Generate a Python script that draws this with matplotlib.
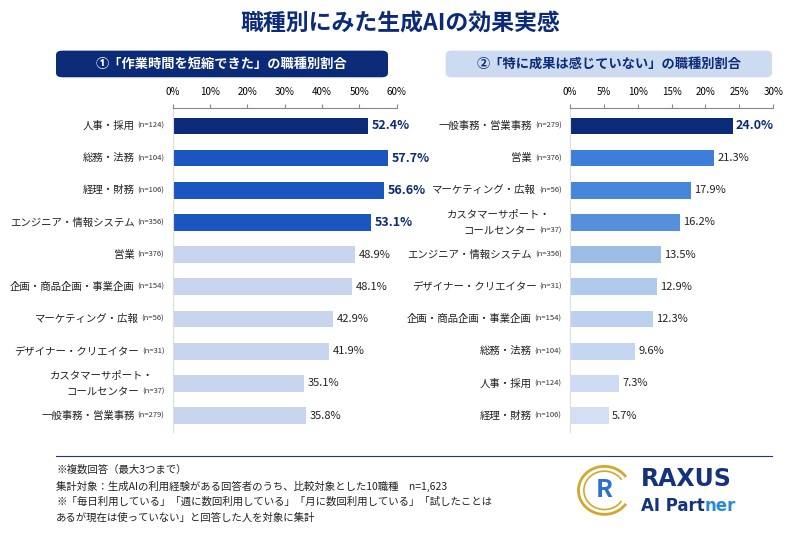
import matplotlib.pyplot as plt
from matplotlib.patches import FancyBboxPatch, Arc
from matplotlib.transforms import offset_copy
import numpy as np

plt.rcParams['font.family'] = ['Noto Sans CJK JP', 'DejaVu Sans']

# left panel: 作業時間を短縮できた
left_jobs = ["人事・採用", "総務・法務", "経理・財務", "エンジニア・情報システム", "営業",
             "企画・商品企画・事業企画", "マーケティング・広報", "デザイナー・クリエイター",
             "カスタマーサポート・\nコールセンター", "一般事務・営業事務"]
left_n = [124, 104, 106, 356, 376, 154, 56, 31, 37, 279]
left_vals = [52.4, 57.7, 56.6, 53.1, 48.9, 48.1, 42.9, 41.9, 35.1, 35.8]
left_colors = ["#0b2a78", "#1a55c0", "#1a55c0", "#1a55c0"] + ["#c7d6ee"] * 6

# right panel: 特に成果は感じていない
right_jobs = ["一般事務・営業事務", "営業", "マーケティング・広報", "カスタマーサポート・\nコールセンター",
              "エンジニア・情報システム", "デザイナー・クリエイター", "企画・商品企画・事業企画",
              "総務・法務", "人事・採用", "経理・財務"]
right_n = [279, 376, 56, 37, 356, 31, 154, 104, 124, 106]
right_vals = [24.0, 21.3, 17.9, 16.2, 13.5, 12.9, 12.3, 9.6, 7.3, 5.7]
right_colors = ["#0b2a78", "#3d7ed8", "#4787da", "#5690dd", "#9dbce8", "#b0caee",
                "#bcd1ef", "#c5d7f0", "#cddcf2", "#d3e0f3"]

fig = plt.figure(figsize=(8, 5.33), dpi=100)
fig.patch.set_facecolor("white")
renderer = fig.canvas.get_renderer()

fig.text(0.5, 0.955, "職種別にみた生成AIの効果実感", ha="center", va="center",
         fontsize=16.5, fontweight="bold", color="#0b2a78")

def header(x0, x1, text, fc, tc):
    box = FancyBboxPatch((x0, 0.855), x1 - x0, 0.05, boxstyle="round,pad=0,rounding_size=0.008",
                         transform=fig.transFigure, fc=fc, ec="none")
    fig.patches.append(box)
    fig.text((x0 + x1) / 2, 0.88, text, ha="center", va="center", fontsize=9.5,
             fontweight="bold", color=tc)

header(0.07, 0.485, "①「作業時間を短縮できた」の職種別割合", "#0b2a78", "white")
header(0.557, 0.965, "②「特に成果は感じていない」の職種別割合", "#cddbf1", "#0b2a78")

def panel(rect, jobs, ns, vals, colors, xmax, step, nbold):
    ax = fig.add_axes(rect)
    y = np.arange(len(jobs))
    ax.barh(y, vals, color=colors, height=0.52)
    ax.set_xlim(0, xmax)
    ax.set_ylim(len(jobs) - 0.5, -0.55)
    ax.xaxis.tick_top()
    ax.set_xticks(np.arange(0, xmax + 1, step))
    ax.set_xticklabels([f"{t}%" for t in np.arange(0, xmax + 1, step)], fontsize=7)
    ax.tick_params(axis="x", length=3, color="#888888", pad=5)
    ax.set_yticks([])
    for s in ["right", "bottom"]:
        ax.spines[s].set_visible(False)
    ax.spines["top"].set_color("#888888")
    ax.spines["left"].set_color("#dddddd")
    tr = ax.get_yaxis_transform()
    for i, (j, n, v) in enumerate(zip(jobs, ns, vals)):
        lines = j.split("\n")
        dy = -6 if len(lines) > 1 else 0
        nt = ax.text(0, i, f"(n={n})", transform=offset_copy(tr, fig, x=-6, y=dy, units="points"),
                     ha="right", va="center", fontsize=5.5, color="#333333")
        w = nt.get_window_extent(renderer).width * 72 / fig.dpi
        ax.text(0, i, lines[-1], transform=offset_copy(tr, fig, x=-8 - w, y=dy, units="points"),
                ha="right", va="center", fontsize=7.5, color="#222222")
        if len(lines) > 1:
            ax.text(0, i, lines[0], transform=offset_copy(tr, fig, x=-14, y=6, units="points"),
                    ha="right", va="center", fontsize=7.5, color="#222222")
        bold = i < nbold
        ax.text(v + xmax * 0.015, i, f"{v:.1f}%", va="center", ha="left",
                fontsize=9 if bold else 8, fontweight="bold" if bold else "normal",
                color="#0b2a78" if bold else "#222222")
    return ax

panel([0.216, 0.19, 0.28, 0.607], left_jobs, left_n, left_vals, left_colors, 60, 10, 4)
panel([0.7125, 0.19, 0.254, 0.607], right_jobs, right_n, right_vals, right_colors, 30, 5, 1)

fig.add_artist(plt.Line2D([0.07, 0.965], [0.145, 0.145], transform=fig.transFigure,
                          color="#1a3a7a", lw=0.8))

notes = ["※複数回答（最大3つまで）",
         "集計対象：生成AIの利用経験がある回答者のうち、比較対象とした10職種　n=1,623",
         "※「毎日利用している」「週に数回利用している」「月に数回利用している」「試したことは",
         "あるが現在は使っていない」と回答した人を対象に集計"]
for k, t in enumerate(notes):
    fig.text(0.07, 0.118 - k * 0.03, t, fontsize=7.5, color="#222222", va="center")

# logo
lax = fig.add_axes([0.715, 0.02, 0.27, 0.12])
lax.set_xlim(0, 10)
lax.set_ylim(0, 4)
lax.axis("off")
lax.add_patch(Arc((1.5, 2), 2.4, 3.0, theta1=40, theta2=320, color="#d4a72c", lw=2))
lax.add_patch(Arc((1.5, 2), 1.9, 2.4, theta1=40, theta2=320, color="#d4a72c", lw=1.2))
lax.text(1.5, 2, "R", ha="center", va="center", fontsize=18, fontweight="bold", color="#2a73c9")
lax.text(3.2, 2.7, "RAXUS", ha="left", va="center", fontsize=17, fontweight="bold", color="#14337a",
         family="DejaVu Sans")
t1 = lax.text(3.2, 1.0, "AI Part", ha="left", va="center", fontsize=12, fontweight="bold",
              color="#14337a", family="DejaVu Sans")
w1 = t1.get_window_extent(renderer).width * 72 / fig.dpi
lax.text(3.2, 1.0, "ner", transform=offset_copy(lax.transData, fig, x=w1, units="points"),
         ha="left", va="center", fontsize=12, fontweight="bold", color="#2a8ad6",
         family="DejaVu Sans")

fig.savefig("out.png", dpi=100)
